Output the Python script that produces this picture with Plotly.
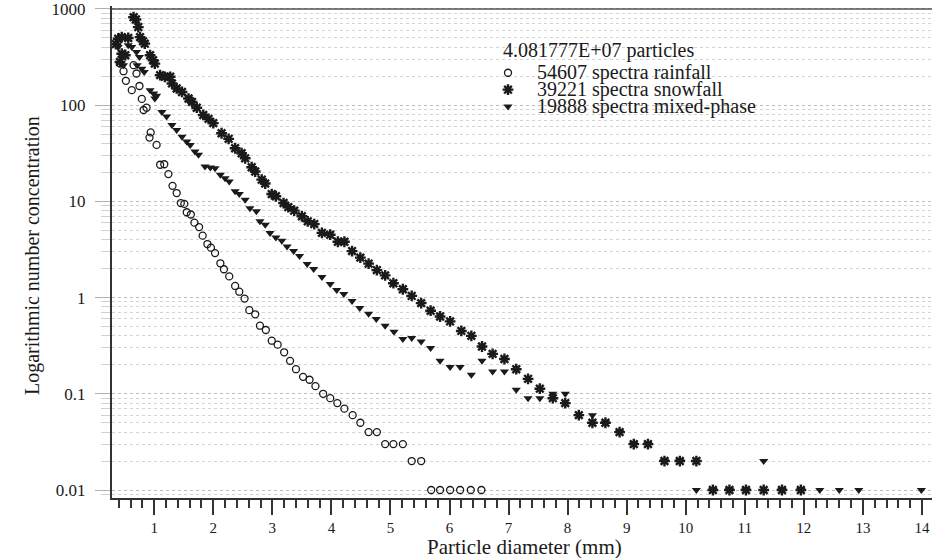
import plotly.graph_objects as go

# ---------------- data ----------------
rain_x = [0.42, 0.48, 0.52, 0.62, 0.65, 0.70, 0.75, 0.79, 0.82, 0.87, 0.92, 0.94, 1.04, 1.10,
          1.17, 1.24, 1.31, 1.38, 1.45, 1.51, 1.55, 1.62, 1.68, 1.76, 1.82, 1.90, 1.96, 2.03,
          2.12, 2.18, 2.27, 2.37, 2.44, 2.53, 2.61, 2.71, 2.79, 2.89, 2.99, 3.09, 3.20, 3.30,
          3.40, 3.52, 3.63, 3.73, 3.86, 3.98, 4.10, 4.22, 4.36, 4.49, 4.63, 4.77, 4.91, 5.05,
          5.21, 5.36, 5.52, 5.69, 5.84, 6.01, 6.18, 6.36, 6.54]
rain_y = [270, 225, 179, 143, 260, 213, 158, 116, 89, 94, 46, 52, 38.6, 24,
          24.3, 19.2, 14.5, 12.2, 9.6, 9.4, 7.7, 7.3, 6.0, 5.4, 4.4, 3.6, 3.3, 2.9,
          2.27, 1.97, 1.66, 1.32, 1.15, 0.975, 0.74, 0.67, 0.51, 0.46, 0.356, 0.324, 0.27, 0.22,
          0.18, 0.15, 0.14, 0.12, 0.10, 0.09, 0.08, 0.07, 0.06, 0.05, 0.04, 0.04, 0.03, 0.03,
          0.03, 0.02, 0.02, 0.01, 0.01, 0.01, 0.01, 0.01, 0.01]

snow_x = [0.35, 0.39, 0.45, 0.45, 0.42, 0.51, 0.56, 0.65, 0.69, 0.73, 0.76, 0.81, 0.84, 0.93,
          0.98, 1.01, 1.10, 1.18, 1.27, 1.30, 1.38, 1.47, 1.58, 1.64, 1.72, 1.83, 1.92, 2.00,
          2.14, 2.26, 2.37, 2.48, 2.54, 2.65, 2.71, 2.82, 2.88, 2.99, 3.06, 3.19, 3.27, 3.37,
          3.50, 3.60, 3.71, 3.84, 3.98, 4.11, 4.22, 4.35, 4.49, 4.63, 4.77, 4.91, 5.05, 5.21,
          5.36, 5.52, 5.68, 5.84, 6.01, 6.20, 6.37, 6.55, 6.73, 6.93, 7.13, 7.33, 7.53, 7.75,
          7.96, 8.19, 8.42, 8.64, 8.88, 9.12, 9.36, 9.64, 9.90, 10.18, 10.46, 10.74, 11.02,
          11.32, 11.63, 11.95]
snow_y = [430, 490, 509, 342, 281, 330, 498, 820, 776, 647, 509, 460, 435, 330,
          293, 270, 205, 197, 197, 168, 149, 137, 117, 108, 94, 79, 72, 65,
          51, 44.6, 35.6, 31.6, 28, 22.6, 20.4, 16.8, 15.3, 11.9, 11.3, 9.6, 8.7, 8.0,
          7.0, 6.2, 5.8, 4.7, 4.5, 3.8, 3.8, 3.04, 2.6, 2.25, 1.93, 1.7, 1.41, 1.22,
          1.04, 0.875, 0.73, 0.636, 0.565, 0.45, 0.40, 0.31, 0.26, 0.23, 0.18, 0.143, 0.113, 0.09,
          0.08, 0.06, 0.05, 0.05, 0.04, 0.03, 0.03, 0.02, 0.02, 0.02, 0.01, 0.01, 0.01,
          0.01, 0.01, 0.01]

mixed_x = [0.39, 0.48, 0.56, 0.62, 0.70, 0.71, 0.75, 0.79, 0.83, 0.93, 0.99, 1.01, 1.04, 1.13,
           1.21, 1.30, 1.38, 1.47, 1.55, 1.61, 1.69, 1.75, 1.86, 1.95, 2.03, 2.12, 2.20, 2.27,
           2.37, 2.44, 2.54, 2.62, 2.73, 2.79, 2.88, 2.96, 3.06, 3.16, 3.25, 3.36, 3.46, 3.59,
           3.70, 3.84, 3.98, 4.09, 4.21, 4.35, 4.48, 4.63, 4.76, 4.91, 5.06, 5.21, 5.36, 5.52,
           5.68, 5.84, 6.01, 6.18, 6.37, 6.55, 6.73, 6.93, 7.13, 7.33, 7.53, 7.75, 7.96, 8.42,
           8.64, 8.88, 9.12, 9.36, 9.64, 9.90, 10.18, 10.46, 10.74, 11.02, 11.32, 11.63, 11.95,
           12.27, 12.60, 12.93, 13.99]
mixed_y = [402, 260, 418, 402, 356, 260, 316, 239, 221, 143, 132, 117, 125, 85,
           76, 62, 55, 47, 41.8, 38.6, 32.9, 30.4, 23, 22.5, 22.1, 18.9, 17.4, 16.1,
           12.7, 11.9, 10.4, 8.5, 7.9, 6.2, 5.7, 4.7, 4.2, 3.9, 3.4, 3.04, 2.7, 2.23,
           1.98, 1.64, 1.38, 1.2, 1.09, 0.92, 0.78, 0.68, 0.60, 0.51, 0.44, 0.37, 0.38, 0.35,
           0.30, 0.22, 0.19, 0.19, 0.158, 0.22, 0.17, 0.17, 0.11, 0.09, 0.09, 0.1, 0.1, 0.06,
           0.05, 0.04, 0.03, 0.03, 0.02, 0.02, 0.01, 0.01, 0.01, 0.01, 0.02, 0.01, 0.01,
           0.01, 0.01, 0.01, 0.01]

x_ticks = list(range(1, 15))
y_ticks = [0.01, 0.1, 1, 10, 100, 1000]
y_tick_text = ["0.01", "0.1", "1", "10", "100", "1000"]

legend_title = "4.081777E+07 particles"
legend_labels = ["54607 spectra rainfall", "39221 spectra snowfall", "19888 spectra mixed-phase"]

# ---------------- styles ----------------
FONT = "Liberation Serif, Times New Roman, serif"
INK = "#1a1a1a"
rain_marker = dict(symbol="circle-open", size=7, color=INK, line=dict(width=1.3, color=INK))
snow_marker = dict(symbol="asterisk-open", size=9, color=INK, line=dict(width=2.4, color=INK))
mixed_marker = dict(symbol="triangle-down", size=8, color=INK, line=dict(width=0))

fig = go.Figure()
fig.add_trace(go.Scatter(x=rain_x, y=rain_y, mode="markers", marker=rain_marker, showlegend=False))
fig.add_trace(go.Scatter(x=snow_x, y=snow_y, mode="markers", marker=snow_marker, showlegend=False))
fig.add_trace(go.Scatter(x=mixed_x, y=mixed_y, mode="markers", marker=mixed_marker, showlegend=False))

# legend markers on an overlay axis in [0, 1] units
L, R, T, B, W, H = 112, 0, 4, 60, 932, 558
pw, ph = W - L - R, H - T - B
def px_x(px):
    return (px - L) / pw
def px_y(py):
    return (H - B - py) / ph

leg_rows_y = [71, 88, 105]
for mk, ry in zip([rain_marker, snow_marker, mixed_marker], leg_rows_y):
    fig.add_trace(go.Scatter(x=[px_x(508)], y=[px_y(ry)], mode="markers", marker=mk,
                             xaxis="x2", yaxis="y2", showlegend=False, hoverinfo="skip"))

minor_x = [round(i * 0.2, 1) for i in range(2, 72) if i % 5 != 0]
minor_y = [m * 10 ** e for e in range(-3, 3) for m in range(2, 10)]

fig.update_layout(
    width=W, height=H,
    margin=dict(l=L, r=R, t=T, b=B),
    paper_bgcolor="white", plot_bgcolor="white",
    font=dict(family=FONT, color=INK),
    xaxis=dict(
        range=[0.285, 14.17], tickvals=x_ticks, ticktext=[str(v) for v in x_ticks],
        ticks="outside", ticklen=15, tickwidth=1.6, tickcolor="#333",
        showline=True, linecolor="#333", linewidth=2, showgrid=False, zeroline=False,
        tickfont=dict(family=FONT, size=15, color=INK), ticklabelstandoff=0,
        minor=dict(tickvals=minor_x, ticks="outside", ticklen=8, tickwidth=1.6, tickcolor="#333", showgrid=False),
    ),
    yaxis=dict(
        type="log", range=[-2.083, 3.03], tickvals=y_ticks, ticktext=y_tick_text,
        ticks="outside", ticklen=15, tickwidth=1, tickcolor="#b0b0b0",
        showline=True, linecolor="#333", linewidth=2, zeroline=False,
        showgrid=True, gridcolor="#bdbdbd", gridwidth=1, griddash="dot",
        tickfont=dict(family=FONT, size=17, color=INK), ticklabelstandoff=6,
        ticklabeloverflow="allow",
        minor=dict(tickvals=minor_y, ticks="outside", ticklen=9, tickwidth=1, tickcolor="#d0d0d0",
                   showgrid=True, gridcolor="#d4d4d4", gridwidth=1, griddash="dot"),
    ),
    xaxis2=dict(overlaying="x", range=[0, 1], visible=False),
    yaxis2=dict(overlaying="y", range=[0, 1], visible=False),
    shapes=[dict(type="line", xref="paper", yref="y", x0=0, x1=1, y0=1000, y1=1000,
                 line=dict(color="#555", width=1.5))],
)

ann = [
    dict(text="Logarithmic number concentration", xref="paper", yref="paper",
         x=0, y=px_y(255), xshift=-(L - 33), textangle=-90, showarrow=False,
         xanchor="center", yanchor="middle", font=dict(family=FONT, size=20, color=INK)),
    dict(text="Particle diameter (mm)", xref="paper", yref="paper",
         x=px_x(524), y=0, yshift=-(547 - (H - B)), showarrow=False,
         xanchor="center", yanchor="middle", font=dict(family=FONT, size=21, color=INK)),
    dict(text=legend_title, xref="paper", yref="paper", x=px_x(501), y=px_y(49),
         showarrow=False, xanchor="left", yanchor="middle", font=dict(family=FONT, size=20, color=INK)),
]
for lab, ry in zip(legend_labels, leg_rows_y):
    ann.append(dict(text=lab, xref="paper", yref="paper", x=px_x(535), y=px_y(ry),
                    showarrow=False, xanchor="left", yanchor="middle",
                    font=dict(family=FONT, size=20, color=INK)))
fig.update_layout(annotations=ann)

fig.write_html("out.html")
